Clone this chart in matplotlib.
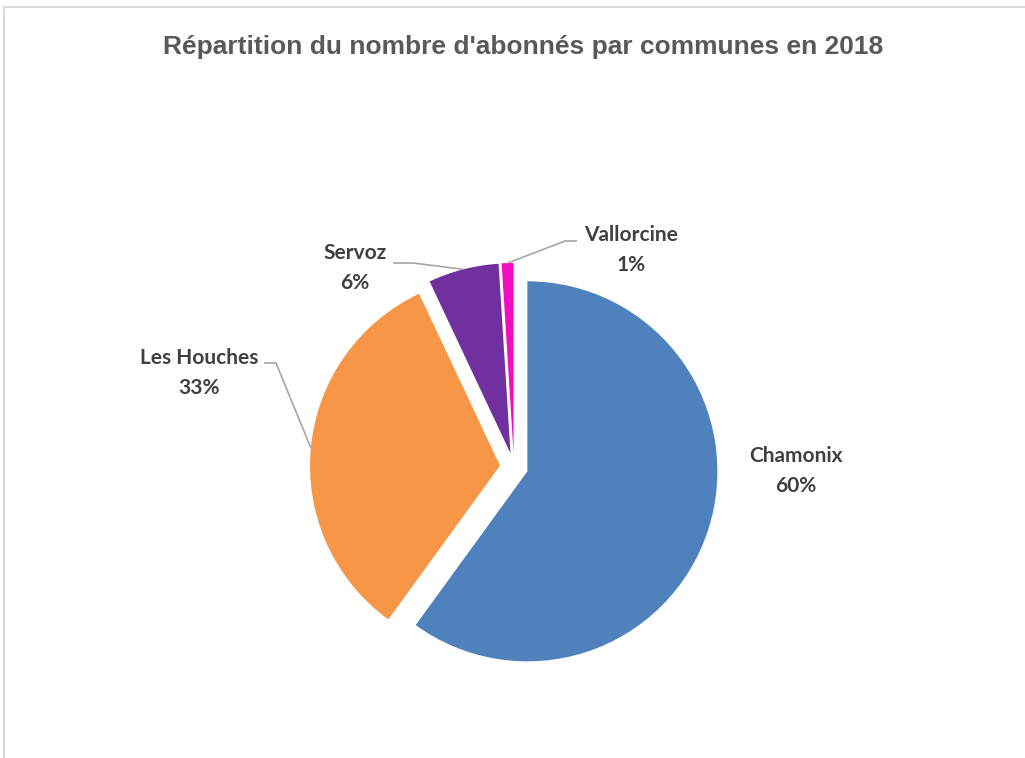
import numpy as np
import matplotlib
matplotlib.use("Agg")
import matplotlib.pyplot as plt
from matplotlib.patches import Rectangle

# ---- data ----
communes = ["Chamonix", "Les Houches", "Servoz", "Vallorcine"]
parts = [60, 33, 6, 1]
colors = ["#4F81BD", "#F79646", "#7030A0", "#F20CC4"]
title = "Répartition du nombre d'abonnés par communes en 2018"

W, H = 1025, 758
fig = plt.figure(figsize=(W / 100, H / 100), dpi=100)
fig.patch.set_facecolor("white")

# chart border (light gray)
fig.patches.append(Rectangle((4 / W, -0.05), 1.2, 1 - 7 / H + 0.05,
                             transform=fig.transFigure, fill=False,
                             edgecolor="#D9D9D9", linewidth=1.5))

title_font = ["Liberation Sans Narrow", "Liberation Sans", "DejaVu Sans"]
label_font = ["Lato", "DejaVu Sans"]

fig.text(523 / W, 1 - 47 / H, title, ha="center", va="center",
         fontsize=19, fontweight="bold", color="#595959", family=title_font)

# pie axes: center at (514, 467) px, radius 190 px
cx, cy, R = 514, 467, 190
half = 260
ax = fig.add_axes([(cx - half) / W, (H - cy - half) / H, 2 * half / W, 2 * half / H])

wedges, _ = ax.pie(parts, colors=colors, startangle=90, counterclock=False,
                   explode=[0.074] * 4, radius=1.0,
                   wedgeprops=dict(linewidth=0))
ax.set_xlim(-half / R, half / R)
ax.set_ylim(-half / R, half / R)
ax.set_aspect("equal")
ax.axis("off")

def px2d(px, py):
    return ((px - cx) / R, (cy - py) / R)

# label positions (layout), leader line start/elbow
layout = {
    "Chamonix": dict(text=px2d(796, 471), line=None),
    "Les Houches": dict(text=px2d(199, 373), line=[px2d(264, 363), px2d(276, 363)]),
    "Servoz": dict(text=px2d(355, 268), line=[px2d(393, 263), px2d(413, 263)]),
    "Vallorcine": dict(text=px2d(631, 250), line=[px2d(577, 241), px2d(565, 241)]),
}

total = sum(parts)
for w, name, val in zip(wedges, communes, parts):
    pct = f"{round(100 * val / total):d}%"
    lay = layout[name]
    ax.text(*lay["text"], f"{name}\n{pct}", ha="center", va="center",
            fontsize=15, fontweight="bold", color="#404040",
            family=label_font, linespacing=1.6, clip_on=False)
    if lay["line"] is not None:
        mid = np.deg2rad((w.theta1 + w.theta2) / 2)
        ex = w.center[0] + w.r * np.cos(mid)
        ey = w.center[1] + w.r * np.sin(mid)
        xs = [lay["line"][0][0], lay["line"][1][0], ex]
        ys = [lay["line"][0][1], lay["line"][1][1], ey]
        ax.plot(xs, ys, color="#A6A6A6", linewidth=1.2,
                solid_capstyle="butt", clip_on=False)

fig.savefig("out.png", dpi=100, facecolor="white")
